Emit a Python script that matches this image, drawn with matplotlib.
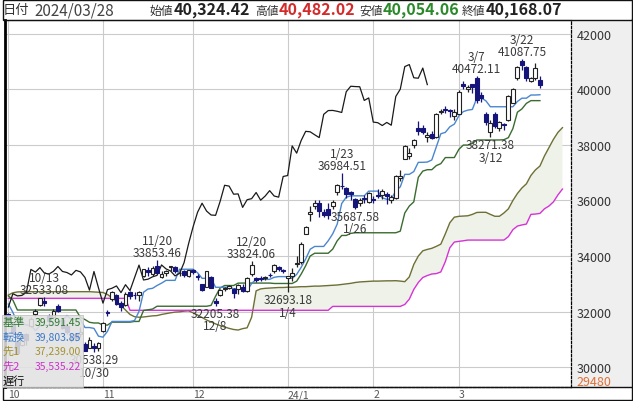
import matplotlib
matplotlib.use("Agg")
import numpy as np
import pandas as pd
import matplotlib.pyplot as plt
from matplotlib.patches import Rectangle
from matplotlib.lines import Line2D

plt.rcParams['font.family'] = ['Noto Sans CJK JP', 'DejaVu Sans']

# daily candles, 2023/10/02 .. 2024/03/28
opens = [31900, 31540, 30900, 30800, 31200, 31500, 31900, 32230, 32400, 31860, 31800, 32200, 31700, 31500, 31050, 31200, 31200, 30850, 30700, 30750, 30700,
         31310, 32000, 32450, 32600, 32300, 32250, 32700, 32600, 32600, 33300, 33500, 33350, 33650, 33250, 33400, 33600, 33600, 33400, 33450, 33300,
         33500, 33300, 33000, 32900, 33250, 32400, 32600, 32800, 32850, 32800, 32800, 32900, 32750, 33350, 33200, 33200, 33200, 33330, 33450, 33600, 33500,
         33200, 33300, 33700, 33800, 34800, 35500, 35800, 35900, 35600, 35700, 35800, 36300, 36530, 36450, 36300, 36050, 35900, 36100, 35950,
         36050, 36200, 36200, 36250, 36000, 36100, 36800, 37500, 37600, 38000, 38600, 38600, 38300, 38400, 38300, 39200, 39300, 39250, 39050,
         39100, 40200, 40000, 40200, 40400, 39800, 39100, 38450, 39100, 38600, 38750, 38900, 39500, 40400, 41000, 40800, 40300, 40400, 40324.42]
highs = [31960, 31600, 30950, 31100, 31220, 31800, 32100, 32500, 32533.08, 31900, 32100, 32260, 31700, 31560, 31200, 31250, 31450, 30900, 31080, 30860, 30900,
         31630, 32050, 32760, 32650, 32400, 32700, 32750, 32700, 32750, 33550, 33600, 33650, 33853.46, 33450, 33500, 33650, 33650, 33500, 33500, 33500,
         33550, 33350, 33000, 33450, 33300, 32500, 32800, 32900, 32950, 32850, 33000, 33000, 33250, 33824.06, 33250, 33300, 33300, 33400, 33700, 33650, 33550,
         33300, 33570, 33990, 34500, 35100, 35800, 36000, 36000, 35700, 35900, 36000, 36600, 36984.51, 36500, 36350, 36100, 36100, 36200, 36300,
         36150, 36400, 36400, 36300, 36200, 36900, 37100, 38000, 37900, 38200, 38865.06, 38700, 38450, 38500, 39160, 39300, 39400, 39300, 39300,
         39990, 40300, 40150, 40200, 40472.11, 39900, 39200, 38900, 39200, 38850, 38800, 39800, 40050, 40850, 41087.75, 40850, 40450, 40950, 40482.02]
lows = [31600, 31200, 30487, 30750, 30800, 31450, 31850, 32200, 32200, 31560, 31750, 32000, 31360, 31200, 30900, 30950, 31100, 30600, 30700, 30538.29, 30600,
        31260, 31850, 32400, 32250, 32030, 32200, 32450, 32450, 32400, 33250, 33300, 33300, 33380, 33200, 33300, 33450, 33400, 33300, 33250, 33250,
        33350, 33150, 32750, 32900, 32850, 32205.38, 32550, 32750, 32800, 32500, 32650, 32700, 32700, 33300, 33050, 33100, 33150, 33250, 33400, 33450, 33400,
        32693.18, 33100, 33600, 33700, 34800, 35250, 35700, 35400, 35400, 35350, 35700, 36200, 36400, 36100, 36000, 35687.58, 35800, 35900, 35900,
        35900, 36100, 36050, 35880, 35900, 36050, 36700, 37500, 37500, 37900, 38350, 38400, 38095.15, 38200, 38250, 39100, 39150, 39000, 38900,
        39100, 40000, 39900, 39850, 39500, 39550, 38700, 38271.38, 38600, 38500, 38519.95, 38850, 39500, 40350, 40700, 40300, 40250, 40350, 40054.06]
closes = [31759.88, 31237.94, 30526.88, 31075.36, 30994.67, 31746.53, 32040.29, 32494.66, 32315.99, 31659.03, 32040.29, 32042.25, 31430.62, 31259.36, 30999.55, 31062.35, 31269.92, 30601.78, 30991.69, 30696.96, 30858.85,
          31601.65, 31949.89, 32708.48, 32271.82, 32166.48, 32646.46, 32568.11, 32585.11, 32695.93, 33519.70, 33424.41, 33585.20, 33388.03, 33354.14, 33451.83, 33625.53, 33447.67, 33408.39, 33321.22, 33486.89,
          33431.51, 33231.27, 32775.82, 33445.90, 32858.31, 32307.86, 32791.80, 32843.71, 32926.35, 32686.25, 32970.55, 32758.98, 33219.39, 33675.94, 33140.47, 33169.05, 33254.03, 33305.85, 33681.24, 33539.62, 33464.17,
          33288.29, 33377.42, 33763.18, 34441.72, 35049.86, 35577.11, 35901.79, 35619.18, 35477.75, 35466.17, 35963.27, 36546.95, 36517.57, 36226.48, 36236.47, 35751.07, 36026.94, 36065.86, 36286.71,
          36011.46, 36158.02, 36354.16, 36160.66, 36119.92, 36863.28, 36897.42, 37963.97, 37703.32, 38157.94, 38487.24, 38470.38, 38363.61, 38262.16, 39098.68, 39233.71, 39239.52, 39208.03, 39166.19,
          39910.82, 40109.23, 40097.63, 40090.78, 39598.71, 39688.94, 38820.49, 38797.51, 38695.97, 38807.38, 38707.64, 39740.44, 40003.60, 40815.66, 40888.43, 40414.12, 40398.03, 40762.73, 40168.07]

# highs/lows of the 25 sessions before 10/02 (for 転換/基準 windows)
pre_highs = [31800, 32200, 32300, 32400, 32700, 32750, 32950, 33100, 33050, 33000, 32800, 32600, 32800, 32850, 33200, 33634, 33100, 32950, 32750, 32600, 32700, 32500, 32550, 32150, 32100]
pre_lows = [31500, 31900, 32100, 32200, 32300, 32450, 32750, 32900, 32800, 32800, 32500, 32300, 32550, 32650, 32900, 33300, 32900, 32700, 32450, 32300, 32500, 32250, 32200, 31800, 31750]

# 先行スパン (already shifted), index 0..123
span_a = [32600, 32680, 32710, 32720, 32720, 32720, 32720, 32720, 32720, 32720,
          32720, 32720, 32720, 32720, 32720, 32720, 32720, 32720, 32720, 32710,
          32700, 32690, 32620, 32500, 32380, 32220, 32060, 31900, 31820, 31800,
          31810, 31830, 31850, 31860, 31900, 31930, 31960, 31985, 31995, 32020,
          32030, 31960, 31880, 31790, 31700, 31630, 31560, 31500, 31450, 31400,
          31360, 31340, 31390, 31420, 31800, 32750, 32820, 32840, 32850, 32860,
          32870, 32870, 32880, 32880, 32890, 32900, 32900, 32910, 32920, 32920,
          32930, 32940, 32950, 32960, 32980, 33000, 33020, 33050, 33070, 33080,
          33090, 33100, 33100, 33105, 33110, 33110, 33115, 33100, 33080, 33250,
          33700, 34000, 34190, 34240, 34280, 34350, 34430, 34800, 35200, 35400,
          35430, 35440, 35450, 35500, 35570, 35575, 35575, 35500, 35432, 35432,
          35550, 35700, 36000, 36250, 36450, 36600, 36900, 37100, 37239.00, 37600,
          37900, 38200, 38450, 38620]
span_b = [32480, 32480, 32480, 32480, 32480, 32480, 32480, 32480, 32480, 32480,
          32480, 32480, 32480, 32480, 32480, 32480, 32480, 32480, 32480, 32480,
          32480, 32480, 32480, 32480, 32480, 32480, 32480, 32050, 32050, 32050,
          32050, 32050, 32050, 32050, 32050, 32050, 32050, 32050, 32050, 32050,
          32050, 32050, 32050, 32050, 32050, 32050, 32050, 32050, 32050, 32050,
          32050, 32050, 32050, 32050, 32050, 32050, 32050, 32050, 32050, 32050,
          32050, 32050, 32050, 32050, 32050, 32050, 32050, 32050, 32050, 32050,
          32050, 32050, 32190, 32190, 32190, 32190, 32190, 32190, 32190, 32190,
          32190, 32190, 32190, 32190, 32190, 32190, 32190, 32190, 32260, 32450,
          32800, 33050, 33230, 33300, 33356, 33370, 33430, 33800, 34300, 34504,
          34530, 34550, 34576, 34576, 34576, 34576, 34576, 34576, 34576, 34576,
          34576, 34700, 34950, 35080, 35120, 35152, 35500, 35512, 35535.22, 35700,
          35800, 35950, 36200, 36411]

month_idx = [0, 21, 41, 62, 81, 100]
month_labels = ['10', '11', '12', '24/1', '2', '3']
y_ticks = [30000, 32000, 34000, 36000, 38000, 40000, 42000]
high_notes = [(8, '10/13'), (33, '11/20'), (54, '12/20'), (74, '1/23'), (104, '3/7'), (114, '3/22')]
low_notes = [(19, '10/30'), (46, '12/8'), (62, '1/4'), (77, '1/26'), (107, '3/12')]

W, H = 633, 402
n = len(closes)
idx = np.arange(n)

# ichimoku lines
hh = pd.Series(pre_highs + highs)
ll = pd.Series(pre_lows + lows)
tenkan = ((hh.rolling(9).max() + ll.rolling(9).min()) / 2).values[-n:]
kijun = ((hh.rolling(26).max() + ll.rolling(26).min()) / 2).values[-n:]

fig = plt.figure(figsize=(W / 100, H / 100), dpi=100)
fig.patch.set_facecolor('white')
ax = fig.add_axes([5 / W, 1 - 388 / H, (571 - 5) / W, (388 - 21) / H])
ax.set_xlim(-0.75, 124.9)
ax.set_ylim(29291, 42492)

# right scale background
fig.add_artist(Rectangle((571 / W, 1 - 388 / H), (633 - 571) / W, (388 - 21) / H,
                         transform=fig.transFigure, facecolor='#efefef', edgecolor='none', zorder=-1))

ax.grid(True, color='#cbcbcb', lw=0.8)
ax.set_axisbelow(True)

xs = np.arange(len(span_a))
sa = np.array(span_a, float)
sb = np.array(span_b, float)
ax.fill_between(xs, sa, sb, where=sa >= sb, interpolate=True, color='#eef2e9', lw=0, zorder=1)
ax.plot(xs, sa, color='#6f6f35', lw=1, zorder=2)
ax.plot(xs, sb, color='#d633d6', lw=1, zorder=2)
ax.plot(idx, kijun, color='#3a6b30', lw=1, zorder=2)
ax.plot(idx, tenkan, color='#4a86d0', lw=1, zorder=2)
# 遅行スパン
ax.plot(idx[:-25], closes[25:], color='#1a1a1a', lw=0.9, zorder=2)

# candles
o = np.array(opens)
c = np.array(closes)
up = c >= o
ax.vlines(idx, lows, highs, colors=np.where(up, '#222222', '#14147a'), lw=0.9, zorder=3)
ax.bar(idx[up], (c - o)[up], bottom=o[up], width=0.85, color='white', edgecolor='#222222', lw=0.8, zorder=4)
ax.bar(idx[~up], (o - c)[~up], bottom=c[~up], width=0.85, color='#14147a', edgecolor='#14147a', lw=0.8, zorder=4)

for i, d in high_notes:
    ax.annotate(f"{d}\n{highs[i]:.2f}", (i, highs[i]), xytext=(0, 0.5), textcoords='offset points',
                ha='center', va='bottom', fontsize=8.5, color='#3a3a3a', linespacing=0.95, zorder=2.5)
for i, d in low_notes:
    ax.annotate(f"{lows[i]:.2f}\n{d}", (i, lows[i]), xytext=(0, -0.5), textcoords='offset points',
                ha='center', va='top', fontsize=8.5, color='#3a3a3a', linespacing=0.95, zorder=2.5)

ax.yaxis.tick_right()
ax.set_yticks(y_ticks)
ax.set_yticklabels([str(v) for v in y_ticks])
ax.tick_params(axis='y', length=0, pad=4, labelsize=9, labelcolor='#333333')
ax.set_xticks(month_idx)
ax.set_xticklabels(month_labels)
ax.tick_params(axis='x', length=0, pad=1.5, labelsize=7.5, labelcolor='#555555')
for lab in ax.get_xticklabels():
    lab.set_horizontalalignment('left')
ax.annotate('29480', xy=(1, 29480), xycoords=('axes fraction', 'data'), xytext=(4, 0),
            textcoords='offset points', va='center', ha='left', fontsize=9, color='#e0703a', annotation_clip=False)

for s in ('right', 'bottom'):
    ax.spines[s].set_linestyle((0, (2, 1.5)))
    ax.spines[s].set_linewidth(0.9)
ax.spines['left'].set_linewidth(2)
ax.spines['top'].set_linewidth(0.8)

# overlay in pixel coords for header / legend / frame
ov = fig.add_axes([0, 0, 1, 1], zorder=5)
ov.set_xlim(0, W)
ov.set_ylim(H, 0)
ov.axis('off')
ov.patch.set_alpha(0)

ov.add_patch(Rectangle((3, 0.5), 629, 20, fill=False, edgecolor='#111111', lw=1))
ov.add_patch(Rectangle((3, 388), 629, 13, fill=False, edgecolor='#111111', lw=1))
ov.add_line(Line2D([632, 632], [20, 388], color='#111111', lw=1))

ov.text(3, 10.5, '日付', fontsize=9.5, color='#333333', va='center')
ov.text(34, 10.5, '2024/03/28', fontsize=11, color='#444444', va='center')
hdr = [(150, '始値', opens[-1], '#222222'), (255, '高値', highs[-1], '#d42a2a'),
       (359, '安値', lows[-1], '#2a8a2a'), (462, '終値', closes[-1], '#222222')]
for x0, lab, val, col in hdr:
    ov.text(x0, 11, lab, fontsize=8.5, color='#333333', va='center')
    ov.text(x0 + 24, 10.5, f"{val:,.2f}", fontsize=11.5, fontweight='bold', color=col, va='center')

# legend box (drawn over the chart, as in the original)
ov.add_patch(Rectangle((2, 316), 81, 72, facecolor='#e2e2e2', edgecolor='#bbbbbb', lw=0.6, alpha=0.88))
leg = [('基準', kijun[-1], '#2f7a2f'), ('転換', tenkan[-1], '#3a78c8'),
       ('先1', span_a[n - 1], '#a39230'), ('先2', span_b[n - 1], '#cc33cc')]
for k, (lab, val, col) in enumerate(leg):
    y = 323 + k * 14.5
    ov.text(3, y, lab, fontsize=8, color=col, va='center')
    ov.text(81, y, f"{val:,.2f}", fontsize=7.5, color=col, va='center', ha='right')
ov.text(3, 381, '遅行', fontsize=8, color='#111111', va='center')

fig.savefig('out.png', dpi=100)
